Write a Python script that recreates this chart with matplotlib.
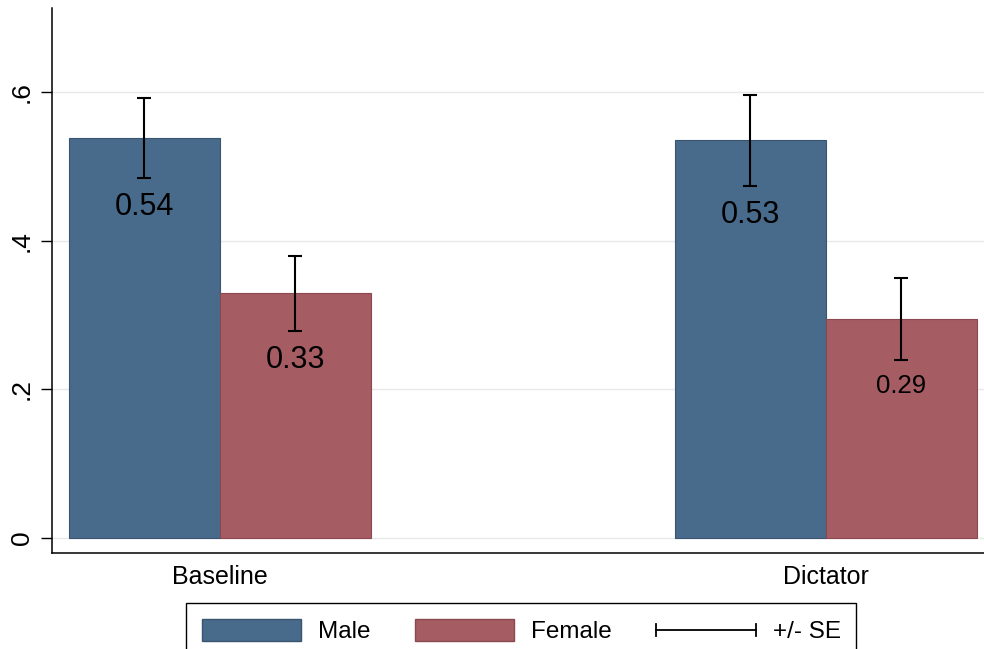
import matplotlib
matplotlib.use("Agg")
import matplotlib.pyplot as plt
import numpy as np
from matplotlib.legend_handler import HandlerBase
from matplotlib.lines import Line2D
from matplotlib.patches import Patch

plt.rcParams['font.family'] = ['Liberation Sans', 'DejaVu Sans']

groups = ['Baseline', 'Dictator']
male = [0.538, 0.535]
female = [0.329, 0.295]
male_se = [0.054, 0.061]
female_se = [0.050, 0.055]
male_lbl = ['0.54', '0.53']
female_lbl = ['0.33', '0.29']
yticks = [0, 0.2, 0.4, 0.6]
ytick_labels = ['0', '.2', '.4', '.6']

blue = '#486a8b'
red = '#a65c63'


class HandlerSE(HandlerBase):
    # horizontal line with end caps for the +/- SE key
    def create_artists(self, legend, orig_handle, xd, yd, w, h, fontsize, trans):
        x0, x1 = -xd, -xd + w
        y = -yd + h / 2
        line = Line2D([x0, x1], [y, y], color='black', lw=1.3, transform=trans)
        c1 = Line2D([x0, x0], [y - h * 0.28, y + h * 0.28], color='black', lw=1.3, transform=trans)
        c2 = Line2D([x1, x1], [y - h * 0.28, y + h * 0.28], color='black', lw=1.3, transform=trans)
        return [line, c1, c2]


fig = plt.figure(figsize=(9.84, 6.49), dpi=100)
ax = fig.add_axes([0.0528, 0.148, 0.9472, 0.8397])

x = np.arange(len(groups))
w = 0.249
ax.bar(x - w / 2, male, w, color=blue, edgecolor='#3a5570', lw=0.8, zorder=2)
ax.bar(x + w / 2, female, w, color=red, edgecolor='#8a4850', lw=0.8, zorder=2)
ax.errorbar(x - w / 2, male, yerr=male_se, fmt='none', ecolor='black',
            elinewidth=1.5, capsize=5, capthick=1.5, zorder=3)
ax.errorbar(x + w / 2, female, yerr=female_se, fmt='none', ecolor='black',
            elinewidth=1.5, capsize=5, capthick=1.5, zorder=3)

for i in range(len(groups)):
    ax.text(x[i] - w / 2, male[i] - male_se[i] - 0.019, male_lbl[i],
            ha='center', va='top', fontsize=22, zorder=4)
    fs = 22 if i == 0 else 18.5
    ax.text(x[i] + w / 2, female[i] - female_se[i] - 0.019, female_lbl[i],
            ha='center', va='top', fontsize=fs, zorder=4)

ax.set_xlim(-0.277, 1.261)
ax.set_ylim(-0.02, 0.713)
ax.set_yticks(yticks)
ax.set_yticklabels(ytick_labels, rotation=90, va='center', fontsize=19)
ax.set_xticks(x)
ax.set_xticklabels(groups, fontsize=18)
ax.tick_params(axis='x', length=0, pad=9)
ax.tick_params(axis='y', length=8, width=1, pad=5)
ax.grid(axis='y', color='#e8e8e8', lw=1, zorder=0)
for s in ['top', 'right']:
    ax.spines[s].set_visible(False)
for s in ['left', 'bottom']:
    ax.spines[s].set_linewidth(1.1)

handles = [Patch(facecolor=blue, edgecolor='#3a5570'),
           Patch(facecolor=red, edgecolor='#8a4850'),
           'se']
leg = fig.legend(handles, ['Male', 'Female', '+/- SE'], ncol=3,
                 loc='upper left', bbox_to_anchor=(0.189, 0.071),
                 handler_map={str: HandlerSE()}, fontsize=17.5,
                 handlelength=4.1, handleheight=1.05, handletextpad=0.7,
                 columnspacing=1.8, borderpad=0.65, borderaxespad=0,
                 fancybox=False, framealpha=1, edgecolor='black')
leg.get_frame().set_linewidth(1)

fig.savefig('out.png', dpi=100)
